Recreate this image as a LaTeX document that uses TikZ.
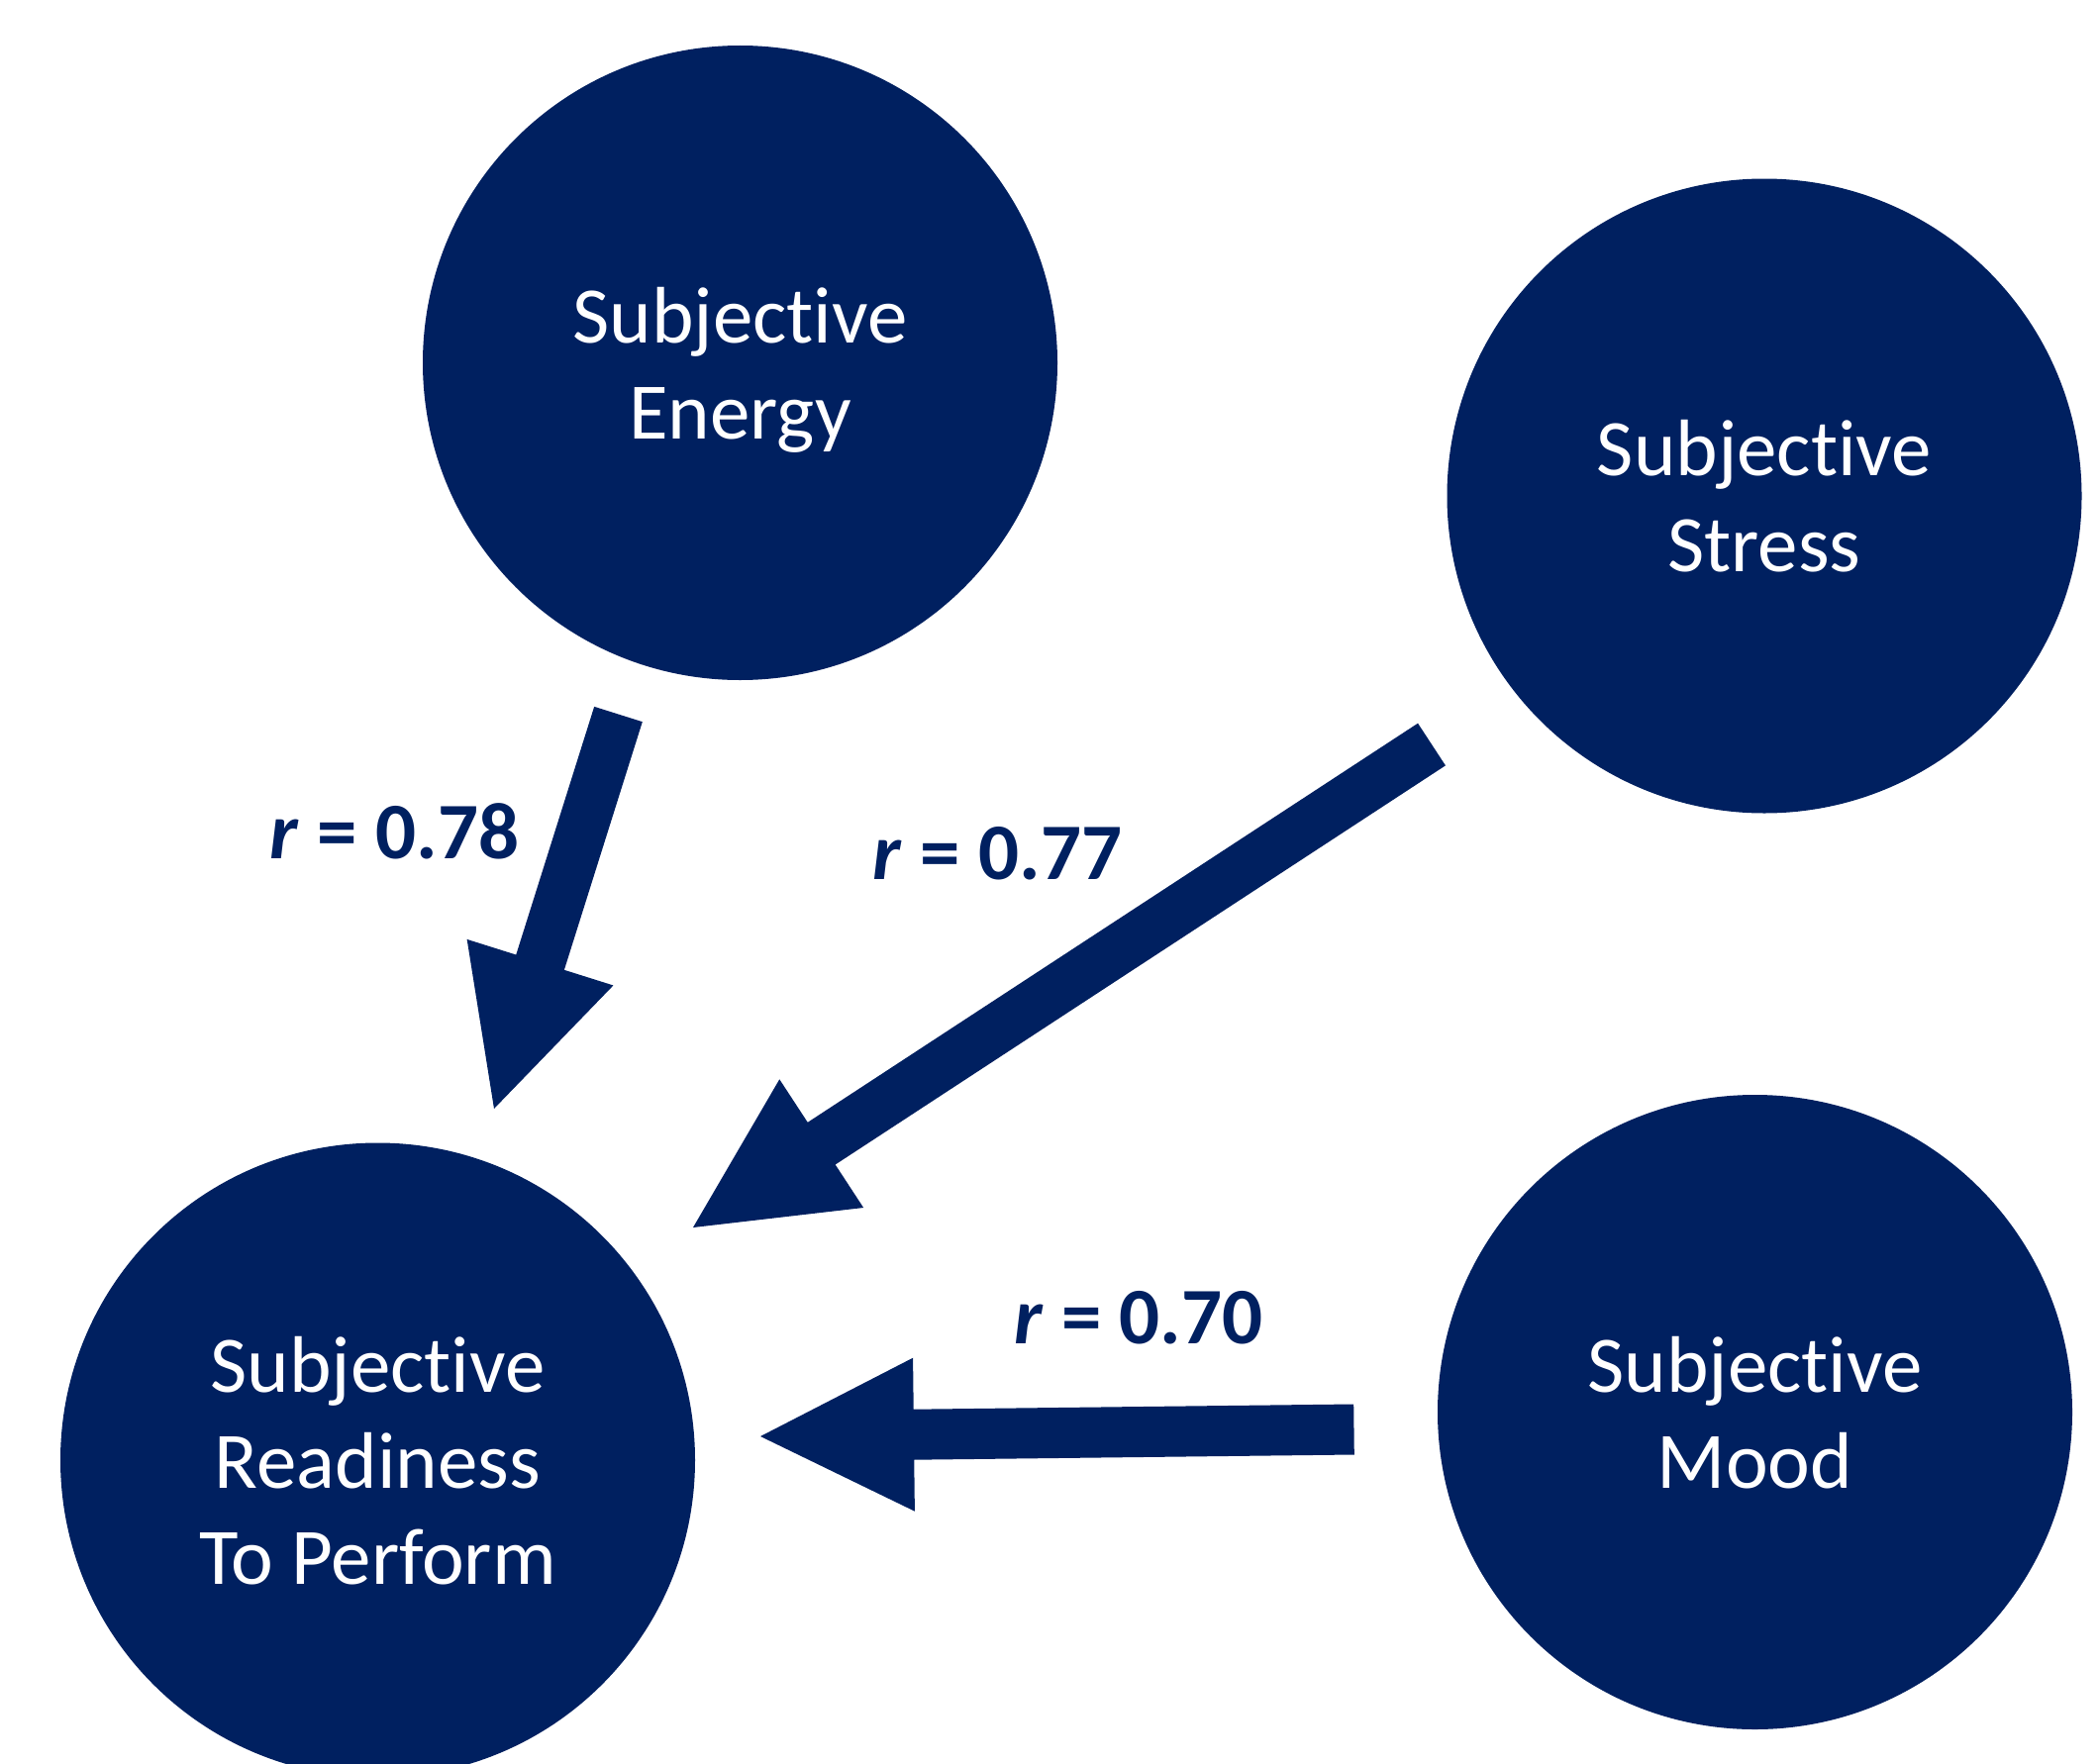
\documentclass[tikz,border=0pt]{standalone}
\usepackage{fontspec}
\setmainfont{Carlito}[Ligatures=NoCommon]
\usetikzlibrary{calc}
\definecolor{navy}{RGB}{0,32,96}

% Block arrow from a tail point to a tip point:
% shaft 51 wide, head 155 wide and 155 long.
\newcommand\drawblockarrow[3]{%
  \coordinate (#3-h) at ($(#2)!155pt!(#1)$);
  \fill[link] ($(#1)!25.5pt!90:(#2)$)
    -- ($(#3-h)!25.5pt!90:(#2)$)
    -- ($(#3-h)!77.5pt!90:(#2)$)
    -- (#2)
    -- ($(#3-h)!77.5pt!-90:(#2)$)
    -- ($(#3-h)!25.5pt!-90:(#2)$)
    -- ($(#1)!25.5pt!-90:(#2)$)
    -- cycle;}

\begin{document}
\begin{tikzpicture}[x=1pt,y=-1pt,
  factor/.style={circle, fill=navy, minimum size=641pt, inner sep=0pt,
    text=white, align=center, text depth=0pt,
    font=\fontsize{81}{97}\selectfont},
  rlabel/.style={anchor=base, text=navy, inner sep=0pt,
    font=\bfseries\fontsize{81}{97}\selectfont},
  link/.style={fill=navy}]
\useasboundingbox (0,0) rectangle (2120,1782);

% factors
\node[factor] (energy)    at (747.5,366.5) {Subjective\\Energy};
\node[factor] (stress)    at (1782,501)    {Subjective\\Stress};
\node[factor] (mood)      at (1772.5,1426.5) {Subjective\\Mood};
\node[factor] (readiness) at (381.5,1475)  {Subjective\\Readiness\\To Perform};

% arrow end points
\coordinate (energy-tail) at (624.5,721.5);
\coordinate (energy-tip)  at (499,1120);
\coordinate (stress-tail) at (1446,752);
\coordinate (stress-tip)  at (700,1240);
\coordinate (mood-tail)   at (1367.5,1444);
\coordinate (mood-tip)    at (768,1451);

\drawblockarrow{energy-tail}{energy-tip}{ea}
\drawblockarrow{stress-tail}{stress-tip}{sa}
\drawblockarrow{mood-tail}{mood-tip}{ma}

% correlations
\node[rlabel] (r-energy) at (398.5,867)  {\textit{r} = 0.78};
\node[rlabel] (r-stress) at (1007.5,888) {\textit{r} = 0.77};
\node[rlabel] (r-mood)   at (1150,1357)  {\textit{r} = 0.70};
\end{tikzpicture}
\end{document}
